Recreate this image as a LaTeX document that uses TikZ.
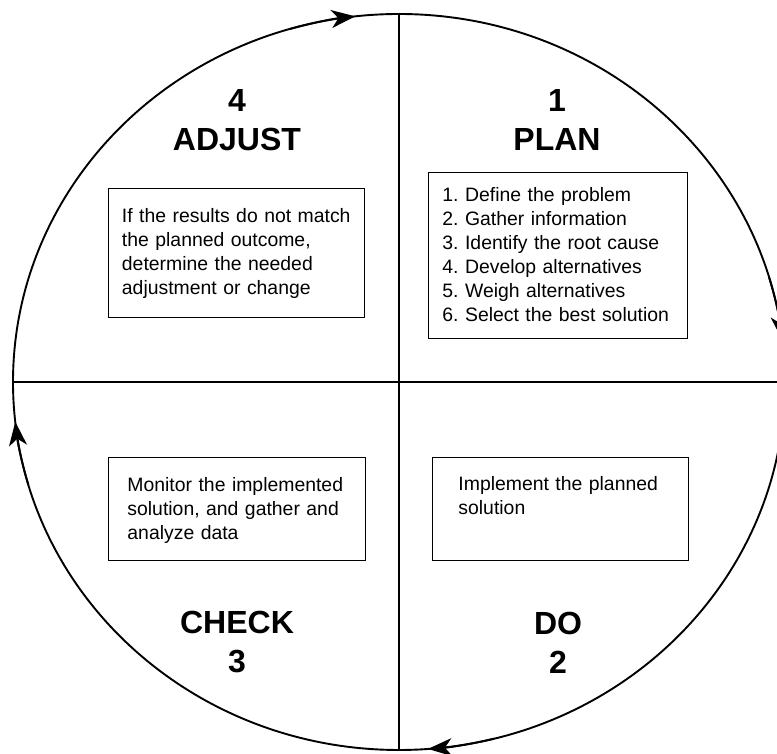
\documentclass[tikz,border=0pt]{standalone}
\usepackage{fontspec}
\setmainfont{Liberation Sans}
\usetikzlibrary{arrows.meta}
\frenchspacing

\begin{document}
\begin{tikzpicture}[x=1pt,y=1pt,
  ring/.style={line width=1.9pt},
  stepbox/.style={draw,line width=0.9pt,anchor=north west,align=left,
    inner ysep=10pt,font=\fontsize{19.4}{24}\selectfont},
  phase/.style={align=center,inner sep=0pt,font=\fontsize{32}{39}\selectfont\bfseries}]
  \useasboundingbox (0,0) rectangle (777,754);
  \coordinate (o) at (399,372);
  \coordinate (n) at (399,741);
  \coordinate (s) at (399,4);
  \coordinate (w) at (13,372);
  \coordinate (e) at (785,372);
  \draw[ring] (o) ellipse [x radius=386pt, y radius=368pt];
  \draw[ring] (n) -- (s);
  \draw[ring] (w) -- (e);
  \foreach \a/\b in {106.5/96.5,16.5/6.5,-75.7/-85.7,196.2/186.2}
    \draw[ring,-{Stealth[length=24pt,width=18pt,inset=7pt]}]
      (o) ++(\a:386pt and 368pt) arc[start angle=\a, end angle=\b, x radius=386pt, y radius=368pt];

  \node[phase] (adjust) at (237,633.5) {4\\ADJUST};
  \node[phase] (plan) at (557,633.5) {1\\PLAN};
  \node[phase] (check) at (237,111.5) {CHECK\\3};
  \node[phase] (do) at (558,111.5) {DO\\2};

  \node[stepbox,inner xsep=13.5pt,text width=229pt,text height=24pt,text depth=85pt]
    (adjustbox) at (108,566) {If the results do not match\\the planned outcome,\\determine the needed\\adjustment or change};
  \node[stepbox,inner xsep=14pt,text width=231pt,text height=19pt,text depth=127pt]
    (planbox) at (428,582) {1. Define the problem\\2. Gather information\\3. Identify the root cause\\4. Develop alternatives\\5. Weigh alternatives\\6. Select the best solution};
  \node[stepbox,inner xsep=19pt,text width=219pt,text height=24pt,text depth=59pt]
    (checkbox) at (108,297) {Monitor the implemented\\solution, and gather and\\analyze data};
  \node[stepbox,inner xsep=26pt,text width=204pt,text height=23pt,text depth=60pt]
    (dobox) at (432,297) {Implement the planned\\solution};
\end{tikzpicture}
\end{document}
